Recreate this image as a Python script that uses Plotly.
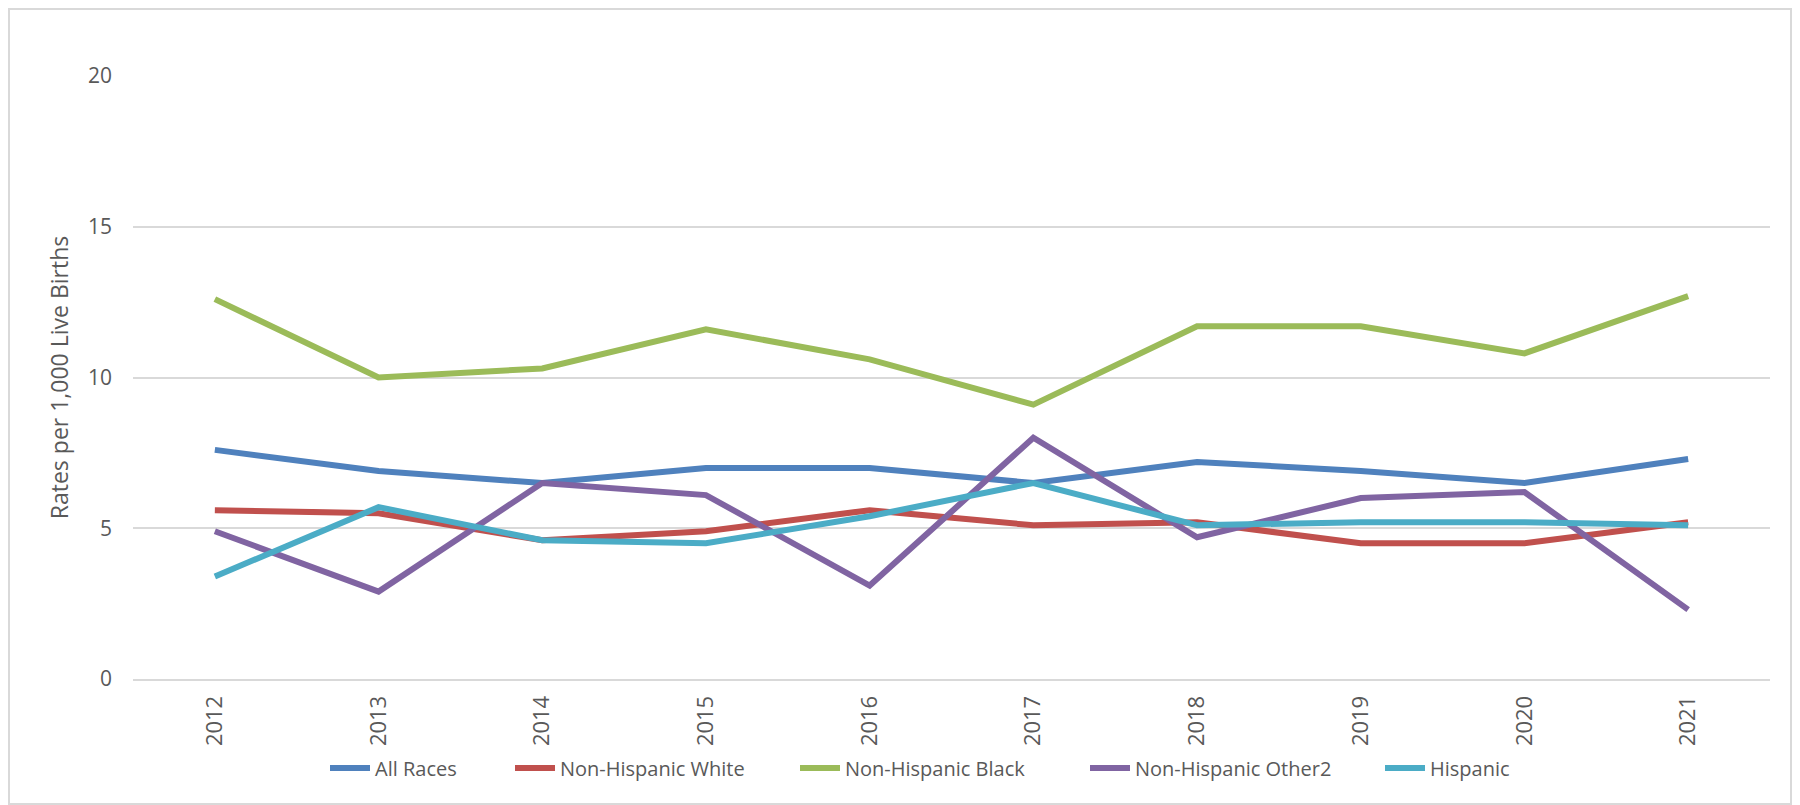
import plotly.graph_objects as go

years = ["2012", "2013", "2014", "2015", "2016", "2017", "2018", "2019", "2020", "2021"]
all_races = [7.6, 6.9, 6.5, 7.0, 7.0, 6.5, 7.2, 6.9, 6.5, 7.3]
nh_white = [5.6, 5.5, 4.6, 4.9, 5.6, 5.1, 5.2, 4.5, 4.5, 5.2]
nh_black = [12.6, 10.0, 10.3, 11.6, 10.6, 9.1, 11.7, 11.7, 10.8, 12.7]
nh_other = [4.9, 2.9, 6.5, 6.1, 3.1, 8.0, 4.7, 6.0, 6.2, 2.3]
hispanic = [3.4, 5.7, 4.6, 4.5, 5.4, 6.5, 5.1, 5.2, 5.2, 5.1]

series_names = ["All Races", "Non-Hispanic White", "Non-Hispanic Black", "Non-Hispanic Other2", "Hispanic"]
series_values = [all_races, nh_white, nh_black, nh_other, hispanic]
colors = ["#4F81BD", "#C0504D", "#9BBB59", "#8064A2", "#4BACC6"]
legend_text_x = [365, 550, 835, 1125, 1420]  # where each legend label starts (px, figure coords)

W, H = 1784, 797
L, R, T, B = 125, 22, 68, 126
PW, PH = W - L - R, H - T - B

font = "Open Sans, Liberation Sans, sans-serif"
fig = go.Figure()
legends = {}
for i, (name, vals, c) in enumerate(zip(series_names, series_values, colors)):
    key = "legend" if i == 0 else f"legend{i + 1}"
    fig.add_trace(go.Scatter(x=years, y=vals, name=name, mode="lines",
                             line=dict(color=c, width=6), legend=key))
    legends[key] = dict(orientation="h", x=(legend_text_x[i] - 48 - L) / PW, xanchor="left",
                        y=-(760 - (H - B)) / PH, yanchor="middle",
                        font=dict(size=20, color="#595959"), itemwidth=40,
                        bgcolor="rgba(0,0,0,0)")

fig.update_layout(
    width=W, height=H,
    paper_bgcolor="white", plot_bgcolor="white",
    margin=dict(l=L, r=R, t=T, b=B),
    font=dict(family=font, size=20, color="#595959"),
    showlegend=True,
    xaxis=dict(type="category", range=[-0.5, 9.5], tickangle=-90, showgrid=False,
               showline=True, linecolor="#D9D9D9", linewidth=2, ticks="",
               ticklabelstandoff=6,
               tickfont=dict(size=22, color="#595959")),
    yaxis=dict(range=[0, 20], dtick=5, tick0=0, showgrid=True, gridcolor="#D9D9D9",
               gridwidth=2, zeroline=False, showline=False, ticks="",
               ticklabelstandoff=20,
               title=dict(text="Rates per 1,000 Live Births", font=dict(size=23, color="#595959"),
                          standoff=12),
               tickfont=dict(size=21, color="#595959")),
    shapes=[dict(type="rect", xref="paper", yref="paper",
                 x0=(1 - L) / PW, x1=(W - 1 - L) / PW, y0=-(B - 1) / PH, y1=1 + (T - 1) / PH,
                 line=dict(color="#D9D9D9", width=2), fillcolor="rgba(0,0,0,0)", layer="below")],
    **legends,
)

fig.write_html("out.html")
